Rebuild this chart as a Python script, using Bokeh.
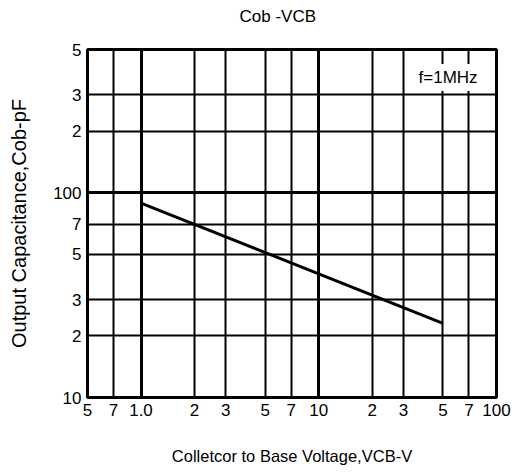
from bokeh.plotting import figure
from bokeh.models import FixedTicker, Grid, Label, Range1d
from bokeh.embed import file_html
from bokeh.resources import INLINE

# data (straight line on log-log)
vcb = [1.0, 50.0]
cob = [89.0, 23.0]

x_ticks = [0.5, 0.7, 1, 2, 3, 5, 7, 10, 20, 30, 50, 70, 100]
x_labels = ["5", "7", "1.0", "2", "3", "5", "7", "10", "2", "3", "5", "7", "100"]
y_ticks = [10, 20, 30, 50, 70, 100, 200, 300, 500]
y_labels = ["10", "2", "3", "5", "7", "100", "2", "3", "5"]
x_decades = [1, 10]
y_decades = [100]

FONT = "Liberation Sans"

p = figure(frame_width=409, frame_height=348, x_axis_type="log", y_axis_type="log",
           x_range=Range1d(0.5, 100), y_range=Range1d(10, 500),
           output_backend="svg", toolbar_location=None,
           min_border_left=87, min_border_right=17, min_border_top=49,
           min_border_bottom=77)

p.title.text = "Cob -VCB\n"
p.title.align = "left"
p.title.offset = 152
p.title.vertical_align = "top"
p.title.standoff = 6
p.title.text_font = FONT
p.title.text_font_size = "17px"
p.title.text_font_style = "normal"
p.title.text_color = "black"

p.xaxis.ticker = FixedTicker(ticks=x_ticks)
p.xaxis.major_label_overrides = dict(zip(x_ticks, x_labels))
p.yaxis.ticker = FixedTicker(ticks=y_ticks)
p.yaxis.major_label_overrides = dict(zip(y_ticks, y_labels))

p.xaxis.axis_label = "Colletcor to Base Voltage,VCB-V"
p.yaxis.axis_label = "Output Capacitance,Cob-pF"

for ax in (p.xaxis[0], p.yaxis[0]):
    ax.axis_line_color = None
    ax.major_tick_line_color = None
    ax.minor_tick_line_color = None
    ax.major_tick_out = 0
    ax.major_tick_in = 0
    ax.minor_tick_out = 0
    ax.minor_tick_in = 0
    ax.major_label_text_font = FONT
    ax.major_label_text_font_size = "17px"
    ax.major_label_text_color = "black"
    ax.axis_label_text_font = FONT
    ax.axis_label_text_font_style = "normal"
    ax.axis_label_text_color = "black"

p.xaxis.axis_label_text_font_size = "16.5px"
p.yaxis.axis_label_text_font_size = "20px"
p.xaxis.major_label_standoff = 6
p.yaxis.major_label_standoff = 6
p.xaxis.axis_label_standoff = 28
p.yaxis.axis_label_standoff = 20

for g in (p.xgrid[0], p.ygrid[0]):
    g.grid_line_color = "black"
    g.grid_line_width = 2
    g.grid_line_alpha = 1.0

p.add_layout(Grid(dimension=0, ticker=FixedTicker(ticks=x_decades),
                  grid_line_color="black", grid_line_width=3))
p.add_layout(Grid(dimension=1, ticker=FixedTicker(ticks=y_decades),
                  grid_line_color="black", grid_line_width=3))

p.outline_line_color = "black"
p.outline_line_width = 3
p.outline_line_alpha = 1.0

p.line(vcb, cob, line_width=3, line_color="black")

p.add_layout(Label(x=53.4, y=365, text="f=1MHz", text_align="center",
                   text_baseline="middle", text_font=FONT, text_font_size="17px",
                   text_color="black", background_fill_color="white",
                   padding=4))

open("out.html", "w").write(file_html(p, INLINE))
